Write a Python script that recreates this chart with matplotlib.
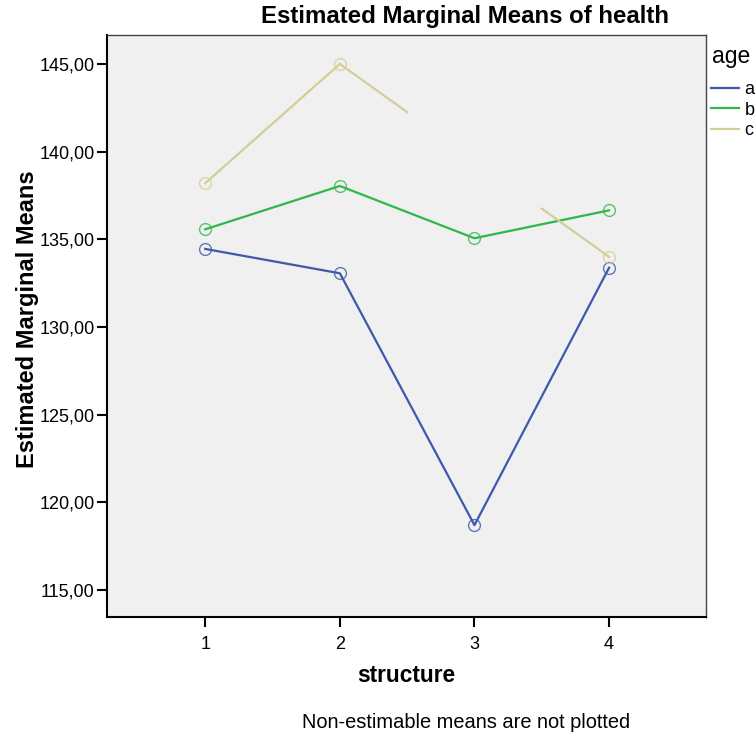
import numpy as np
import matplotlib.pyplot as plt
from matplotlib.ticker import FuncFormatter

plt.rcParams['font.family'] = ['Liberation Sans', 'DejaVu Sans']

structure = [1, 2, 3, 4]
series_names = ['a', 'b', 'c']
age_a = [134.45, 133.06, 118.70, 133.38]
age_b = [135.57, 138.04, 135.06, 136.65]
age_c = [138.20, 145.00, np.nan, 134.00]
colors = ['#3e58ac', '#2eb848', '#d3ce97']

fig = plt.figure(figsize=(7.56, 7.38), dpi=100)
ax = fig.add_axes([107 / 756, 1 - 617 / 738, 599 / 756, 582 / 738])
ax.set_facecolor('#f0f0f0')

for name, vals, col in zip(series_names, [age_a, age_b, age_c], colors):
    x = np.array(structure, dtype=float)
    y = np.array(vals, dtype=float)
    ax.plot(x, y, color=col, lw=1.6, label=name, zorder=3)
    ax.plot(x, y, 'o', mfc='none', mec=col, mew=1.0, ms=8.5, alpha=0.8, zorder=4)
    # SPSS draws half segments toward a non-estimable mean
    for i in range(len(y)):
        if np.isnan(y[i]) and 0 < i < len(y) - 1:
            y0, y1 = y[i - 1], y[i + 1]
            mid_l = y0 + (y1 - y0) / 4
            mid_r = y0 + 3 * (y1 - y0) / 4
            ax.plot([x[i - 1], x[i] - 0.5], [y0, mid_l], color=col, lw=1.6, zorder=3)
            ax.plot([x[i] + 0.5, x[i + 1]], [mid_r, y1], color=col, lw=1.6, zorder=3)

ax.set_xlim(0.27, 4.72)
ax.set_ylim(113.46, 146.65)
ax.set_xticks(structure)
ax.set_yticks([115, 120, 125, 130, 135, 140, 145])
ax.yaxis.set_major_formatter(FuncFormatter(lambda v, p: f'{v:.2f}'.replace('.', ',')))
ax.tick_params(axis='both', direction='out', length=7, width=1.5, labelsize=13, colors='black')
ax.tick_params(axis='x', pad=7)
ax.tick_params(axis='y', pad=2)

for s in ['left', 'bottom']:
    ax.spines[s].set_linewidth(1.5)
    ax.spines[s].set_color('black')
for s in ['top', 'right']:
    ax.spines[s].set_linewidth(1.0)
    ax.spines[s].set_color('#444444')

fig.text(465 / 756, 1 - 16 / 738, 'Estimated Marginal Means of health', ha='center', va='center',
         fontsize=17.3, fontweight='bold')
fig.text(28 / 756, 1 - 319 / 738, 'Estimated Marginal Means', rotation=90, ha='center', va='center',
         fontsize=17, fontweight='bold')
fig.text(406 / 756, 1 - 676 / 738, 'structure', ha='center', va='center', fontsize=16.4, fontweight='bold')
fig.text(466 / 756, 1 - 723 / 738, 'Non-estimable means are not plotted', ha='center', va='center',
         fontsize=14.4)

# legend title drawn separately, SPSS leaves a big gap under it
fig.text(712 / 756, 1 - 56 / 738, 'age', ha='left', va='center', fontsize=16.5)
handles = ax.get_legend_handles_labels()[0]
leg = fig.legend(handles=handles, labels=series_names, loc='upper left',
                 bbox_to_anchor=(711 / 756, 1 - 81 / 738), frameon=False, fontsize=13,
                 handlelength=1.55, handletextpad=0.3, labelspacing=0.2, borderaxespad=0,
                 borderpad=0)

fig.savefig('out.png', dpi=100)
